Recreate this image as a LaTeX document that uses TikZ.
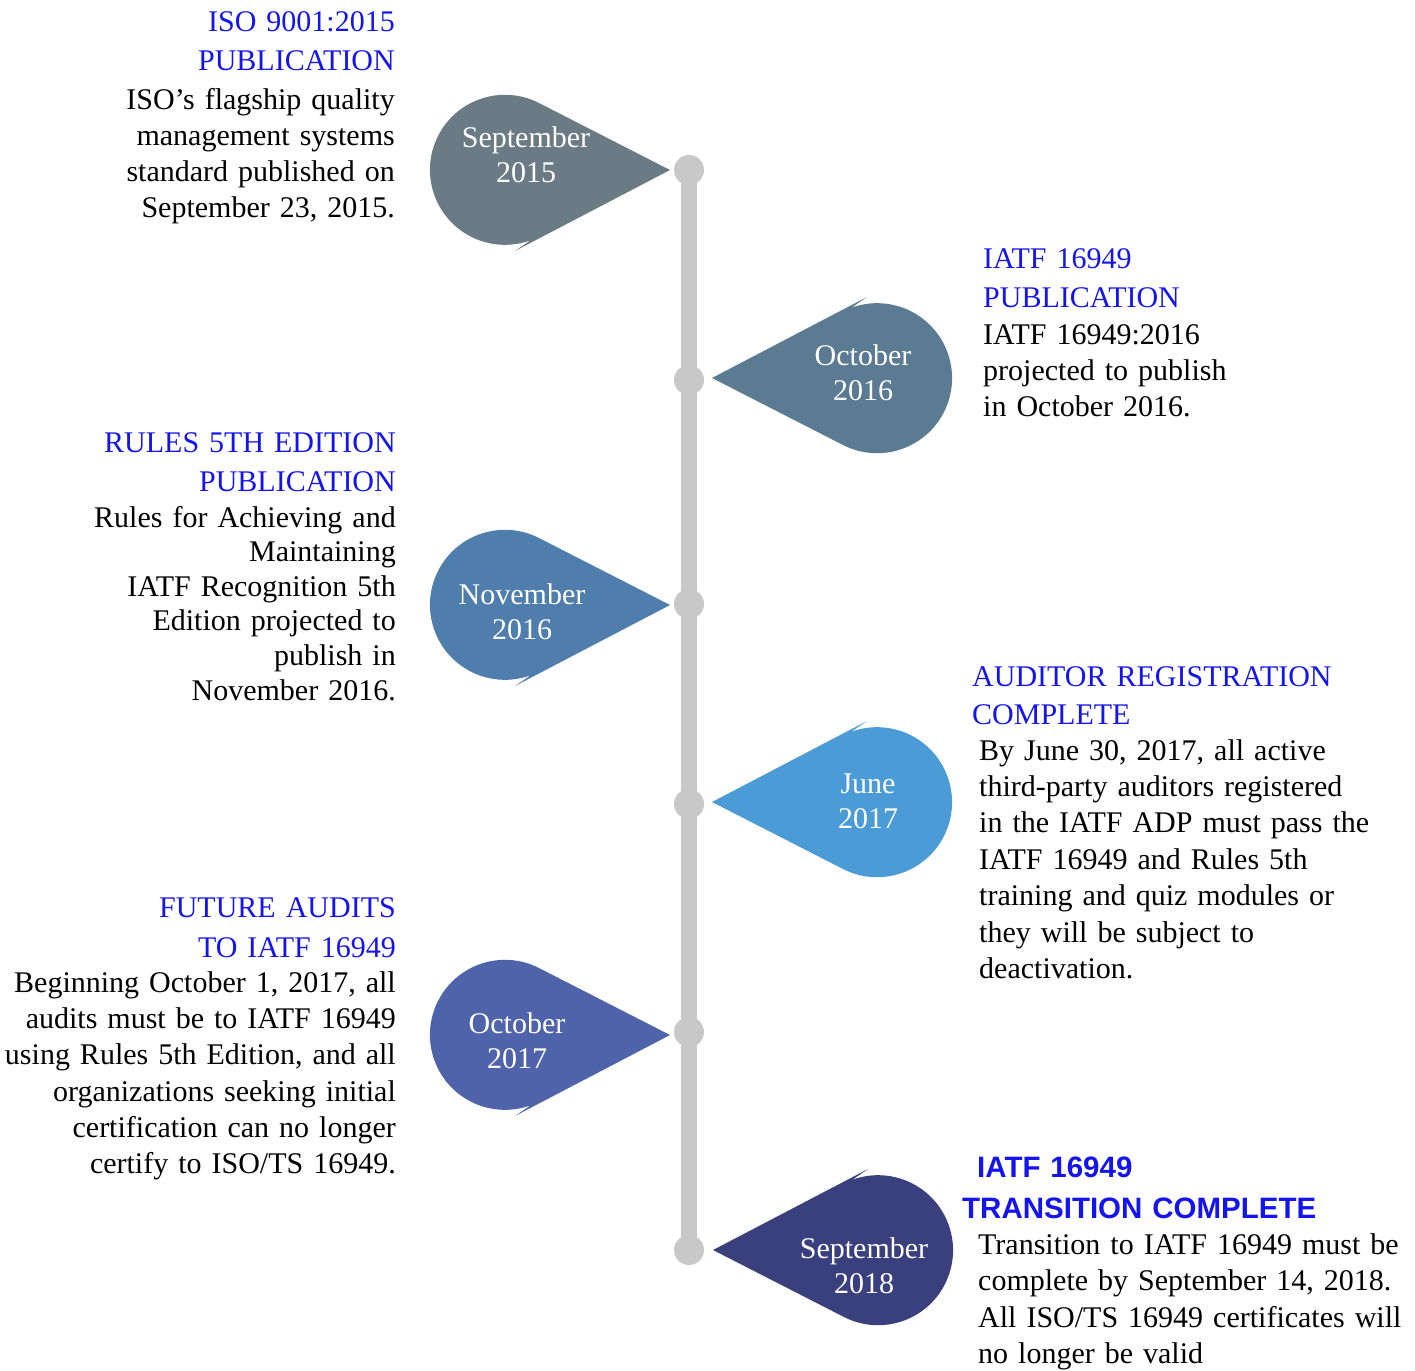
\documentclass[tikz,border=0pt]{standalone}
\usepackage{fontspec}
\setmainfont{Liberation Serif}
\newfontfamily\headsans{Liberation Sans}
\usetikzlibrary{positioning}

\definecolor{railgray}{HTML}{C8C8C8}
\definecolor{titleblue}{HTML}{1414EE}
\definecolor{dropA}{HTML}{6B7B85}
\definecolor{dropB}{HTML}{5B7B92}
\definecolor{dropC}{HTML}{4F7EAD}
\definecolor{dropD}{HTML}{4B9CD6}
\definecolor{dropE}{HTML}{4F63AB}
\definecolor{dropF}{HTML}{3A3F7E}

\tikzset{
  rail/.style={line width=16pt, railgray},
  dot/.style={circle, fill=railgray, minimum size=30pt, inner sep=0pt},
  datelbl/.style={text=white, align=center, inner sep=0pt, font=\fontsize{30}{35}\selectfont},
  headl/.style={anchor=base east, text width=420pt, align=right, inner sep=0pt, text=titleblue, font=\fontsize{30}{39}\selectfont},
  headr/.style={anchor=base west, text width=440pt, align=left, inner sep=0pt, text=titleblue, font=\fontsize{30}{39}\selectfont},
  bodyl/.style={anchor=base east, text width=420pt, align=right, inner sep=0pt, font=\fontsize{30}{35.7}\selectfont},
  bodyr/.style={anchor=base west, text width=440pt, align=left, inner sep=0pt, font=\fontsize{30}{36.2}\selectfont},
  drop/.pic={\fill[pic actions] (165,0) -- (34,-67) arc[start angle=-63, end angle=-290, radius=75] -- (10,81) -- cycle;}
}

\begin{document}
\begin{tikzpicture}[x=1pt, y=-1pt]
  \useasboundingbox (0,0) rectangle (1415,1370);

  % drops
  \pic[fill=dropA] at (505,170) {drop};
  \pic[fill=dropB, rotate=180] at (877,378) {drop};
  \pic[fill=dropC] at (505,605) {drop};
  \pic[fill=dropD, rotate=180] at (877,802) {drop};
  \pic[fill=dropE] at (505,1035) {drop};
  \pic[fill=dropF, rotate=180] at (878,1250) {drop};

  % timeline
  \node[dot] (d1) at (689,170) {};
  \node[dot] (d2) at (689,380) {};
  \node[dot] (d3) at (689,604) {};
  \node[dot] (d4) at (689,804) {};
  \node[dot] (d5) at (689,1032) {};
  \node[dot] (d6) at (689,1250) {};
  \draw[rail] (d1.center) -- (d6.center);

  \node[datelbl] (l1) at (526,155) {September\\2015};
  \node[datelbl] (l2) at (863,372.5) {October\\2016};
  \node[datelbl] (l3) at (522,612) {November\\2016};
  \node[datelbl] (l4) at (868,801) {June\\2017};
  \node[datelbl] (l5) at (517,1041) {October\\2017};
  \node[datelbl] (l6) at (864,1266) {September\\2018};

  % left column
  \node[headl] (t1) at (395,32) {ISO 9001:2015\\PUBLICATION};
  \node[bodyl] (b1) at (395,110) {ISO’s flagship quality\\management systems\\standard published on\\September 23, 2015.};

  \node[headl] (t3) at (396,452) {RULES 5TH EDITION\\PUBLICATION};
  \node[bodyl, font=\fontsize{30}{34.6}\selectfont] (b3) at (396,527) {Rules for Achieving and\\Maintaining\\IATF Recognition 5th\\Edition projected to\\publish in\\November 2016.};

  \node[headl, font=\fontsize{30}{40}\selectfont] (t5) at (396,917) {FUTURE AUDITS\\TO IATF 16949};
  \node[bodyl, font=\fontsize{30}{36.2}\selectfont] (b5) at (396,992.5) {Beginning October 1, 2017, all\\audits must be to IATF 16949\\using Rules 5th Edition, and all\\organizations seeking initial\\certification can no longer\\certify to ISO/TS 16949.};

  % right column
  \node[headr] (t2) at (983,268) {IATF 16949\\PUBLICATION};
  \node[bodyr] (b2) at (983,344) {IATF 16949:2016\\projected to publish\\in October 2016.};

  \node[headr, font=\fontsize{30}{38}\selectfont] (t4) at (972,686) {AUDITOR REGISTRATION\\COMPLETE};
  \node[bodyr, font=\fontsize{30}{36.4}\selectfont] (b4) at (979,760) {By June 30, 2017, all active\\third-party auditors registered\\in the IATF ADP must pass the\\IATF 16949 and Rules 5th\\training and quiz modules or\\they will be subject to\\deactivation.};

  \node[headr, font=\headsans\bfseries\fontsize{29.5}{41}\selectfont] (t6) at (962,1177) {\hspace*{15pt}IATF 16949\\TRANSITION COMPLETE};
  \node[bodyr, font=\fontsize{30}{36.5}\selectfont] (b6) at (978,1254) {Transition to IATF 16949 must be\\complete by September 14, 2018.\\All ISO/TS 16949 certificates will\\no longer be valid};
\end{tikzpicture}
\end{document}
